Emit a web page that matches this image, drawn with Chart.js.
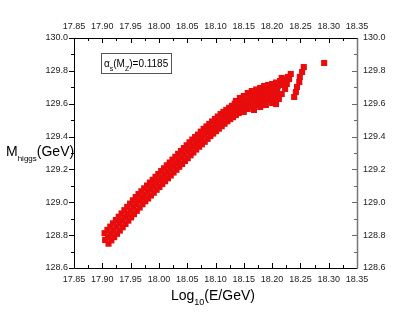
<!DOCTYPE html>
<html>
<head>
<meta charset="utf-8">
<script src="https://cdn.jsdelivr.net/npm/chart.js@4"></script>
<style>
  html, body { margin: 0; padding: 0; background: #fff; }
  canvas { display: block; }
</style>
</head>
<body>
<canvas id="chart" width="415" height="321"></canvas>
<script>
// main diagonal band (log10 E, Higgs mass): centre row, upper-left row, lower-right row
const bandLogE = [
  17.905, 17.910, 17.915, 17.920, 17.925, 17.930, 17.935, 17.940, 17.945, 17.950,
  17.955, 17.960, 17.965, 17.970, 17.975, 17.980, 17.985, 17.990, 17.995, 18.000,
  18.005, 18.010, 18.015, 18.020, 18.025, 18.030, 18.035, 18.040, 18.045, 18.050,
  18.055, 18.060, 18.065, 18.070, 18.075, 18.080, 18.085, 18.090, 18.095, 18.100,
  18.105, 18.110, 18.115, 18.120, 18.125, 18.130, 18.135, 18.140, 18.145,

  17.904, 17.909, 17.914, 17.919, 17.924, 17.929, 17.934, 17.939, 17.944, 17.949,
  17.954, 17.959, 17.964, 17.969, 17.974, 17.979, 17.984, 17.989, 17.994, 17.999,
  18.004, 18.009, 18.014, 18.019, 18.024, 18.029, 18.034, 18.039, 18.044, 18.049,
  18.054, 18.059, 18.064, 18.069, 18.074, 18.079, 18.084, 18.089, 18.094, 18.099,
  18.104, 18.109, 18.114, 18.119, 18.124, 18.129, 18.134, 18.139,

  17.911, 17.916, 17.921, 17.926, 17.931, 17.936, 17.941, 17.946, 17.951, 17.956,
  17.961, 17.966, 17.971, 17.976, 17.981, 17.986, 17.991, 17.996, 18.001, 18.006,
  18.011, 18.016, 18.021, 18.026, 18.031, 18.036, 18.041, 18.046, 18.051, 18.056,
  18.061, 18.066, 18.071, 18.076, 18.081, 18.086, 18.091, 18.096, 18.101, 18.106,
  18.111, 18.116, 18.121, 18.126, 18.131, 18.136, 18.141, 18.146, 18.151
];
const bandMass = [
  128.770, 128.790, 128.810, 128.830, 128.850, 128.870, 128.890, 128.910, 128.930, 128.950,
  128.970, 128.990, 129.010, 129.028, 129.045, 129.063, 129.080, 129.098, 129.115, 129.133,
  129.150, 129.168, 129.185, 129.203, 129.220, 129.238, 129.255, 129.273, 129.290, 129.308,
  129.325, 129.343, 129.360, 129.375, 129.390, 129.408, 129.425, 129.440, 129.455, 129.470,
  129.485, 129.500, 129.515, 129.528, 129.540, 129.553, 129.565, 129.578, 129.590,

  128.812, 128.832, 128.852, 128.872, 128.892, 128.912, 128.932, 128.952, 128.972, 128.992,
  129.012, 129.032, 129.050, 129.067, 129.085, 129.102, 129.120, 129.137, 129.155, 129.172,
  129.190, 129.207, 129.225, 129.242, 129.260, 129.277, 129.295, 129.312, 129.330, 129.347,
  129.365, 129.382, 129.397, 129.412, 129.430, 129.447, 129.462, 129.477, 129.492, 129.507,
  129.522, 129.537, 129.550, 129.562, 129.575, 129.587, 129.600, 129.612,

  128.748, 128.768, 128.788, 128.808, 128.828, 128.848, 128.868, 128.888, 128.908, 128.928,
  128.948, 128.968, 128.988, 129.006, 129.023, 129.041, 129.058, 129.076, 129.093, 129.111,
  129.128, 129.146, 129.163, 129.181, 129.198, 129.216, 129.233, 129.251, 129.268, 129.286,
  129.303, 129.321, 129.338, 129.353, 129.368, 129.386, 129.403, 129.418, 129.433, 129.448,
  129.463, 129.478, 129.493, 129.506, 129.518, 129.531, 129.543, 129.556, 129.568
];

// wider cloud near the top end
const cloudLogE = [
  18.136, 18.143, 18.150, 18.157, 18.164, 18.172, 18.179, 18.186, 18.193, 18.200, 18.207, 18.214, 18.221, 18.228,
  18.140, 18.147, 18.154, 18.161, 18.168, 18.175, 18.182, 18.189, 18.196, 18.203, 18.210, 18.217,
  18.143, 18.150, 18.157, 18.164, 18.172, 18.179, 18.186, 18.193, 18.200, 18.207,
  18.150, 18.157, 18.164, 18.172, 18.179, 18.186, 18.193, 18.200, 18.207,
  18.168, 18.179, 18.189, 18.200
];
const cloudMass = [
  129.617, 129.635, 129.647, 129.665, 129.677, 129.687, 129.696, 129.708, 129.714, 129.720, 129.729, 129.738, 129.747, 129.763,
  129.592, 129.610, 129.623, 129.641, 129.653, 129.665, 129.677, 129.687, 129.696, 129.702, 129.708, 129.714,
  129.568, 129.586, 129.598, 129.617, 129.629, 129.641, 129.650, 129.659, 129.665, 129.671,
  129.550, 129.568, 129.580, 129.592, 129.604, 129.617, 129.623, 129.629, 129.635,
  129.562, 129.580, 129.592, 129.604
];

// steep branches at the end and the lone point
const branchLogE = [
  18.256, 18.253, 18.249, 18.248, 18.244, 18.242, 18.239,
  18.233, 18.230, 18.226, 18.223, 18.217, 18.212, 18.207,
  18.217, 18.214, 18.209, 18.203,
  18.292
];
const branchMass = [
  129.823, 129.793, 129.763, 129.732, 129.702, 129.671, 129.641,
  129.781, 129.750, 129.720, 129.690, 129.659, 129.629, 129.598,
  129.757, 129.726, 129.696, 129.665,
  129.848
];

const xMin = 17.85, xMax = 18.35, xStep = 0.05;
const yMin = 128.6, yMax = 130.0, yStep = 0.2;

const RED = "#e80c0c";
const FONT = "'Liberation Sans', Arial, sans-serif";

function toPoints(xs, ys) {
  return xs.map((x, i) => ({ x: x, y: ys[i] }));
}

function mkSet(xs, ys) {
  return {
    data: toPoints(xs, ys),
    pointStyle: "rect",
    pointRadius: 4.3,
    pointHoverRadius: 4.3,
    backgroundColor: RED,
    borderColor: RED,
    borderWidth: 0,
    showLine: false
  };
}

// text with subscripts: parts = [[text, isSub], ...]
function drawRich(ctx, x, y, parts, size, subSize) {
  let cx = x;
  parts.forEach(p => {
    ctx.font = (p[1] ? subSize : size) + "px " + FONT;
    ctx.fillText(p[0], cx, p[1] ? y + size * 0.35 : y);
    cx += ctx.measureText(p[0]).width;
  });
}

const framePlugin = {
  id: "frame",
  afterDraw(chart) {
    const ctx = chart.ctx, a = chart.chartArea;
    const xs = chart.scales.x, ys = chart.scales.y;
    ctx.save();
    ctx.lineWidth = 1;

    // x ticks: inward on bottom and top
    ctx.strokeStyle = "#000";
    for (let i = 0; i <= 20; i++) {
      const px = Math.round(xs.getPixelForValue(xMin + i * xStep / 2)) + 0.5;
      const len = i % 2 === 0 ? 5 : 3;
      ctx.beginPath();
      ctx.moveTo(px, a.bottom); ctx.lineTo(px, a.bottom - len);
      ctx.moveTo(px, a.top); ctx.lineTo(px, a.top + len);
      ctx.stroke();
    }
    // y ticks: outward on left, inward on right
    for (let i = 0; i <= 14; i++) {
      const py = Math.round(ys.getPixelForValue(yMin + i * yStep / 2)) + 0.5;
      const len = i % 2 === 0 ? 5 : 3;
      ctx.strokeStyle = "#000";
      ctx.beginPath();
      ctx.moveTo(a.left, py); ctx.lineTo(a.left - len, py);
      ctx.stroke();
      ctx.strokeStyle = "#666";
      ctx.beginPath();
      ctx.moveTo(a.right, py); ctx.lineTo(a.right - len, py);
      ctx.stroke();
    }

    // frame
    const L = Math.round(a.left) + 0.5, R = Math.round(a.right) + 0.5;
    const T = Math.round(a.top) + 0.5, B = Math.round(a.bottom) + 0.5;
    ctx.strokeStyle = "#000";
    ctx.beginPath();
    ctx.moveTo(R, T); ctx.lineTo(L, T); ctx.lineTo(L, B); ctx.lineTo(R, B);
    ctx.stroke();
    ctx.strokeStyle = "#777";
    ctx.lineWidth = 1.5;
    ctx.beginPath();
    ctx.moveTo(R, T); ctx.lineTo(R, B);
    ctx.stroke();

    // axis titles
    ctx.fillStyle = "#000";
    ctx.textBaseline = "alphabetic";
    ctx.textAlign = "left";
    drawRich(ctx, 171, 300, [["Log", false], ["10", true], ["(E/GeV)", false]], 14, 9);
    drawRich(ctx, 6, 156, [["M", false], ["higgs", true], ["(GeV)", false]], 14, 8);

    // annotation box
    ctx.strokeStyle = "#555";
    ctx.lineWidth = 1;
    ctx.strokeRect(101.5, 53.5, 70, 20);
    drawRich(ctx, 104, 67, [["\u03b1", false], ["s", true], ["(M", false], ["Z", true], [")=0.1185", false]], 10, 7);

    ctx.restore();
  }
};

function tickCfg(digits) {
  return {
    font: { family: FONT, size: 9 },
    color: "#222",
    padding: 6,
    autoSkip: false,
    maxRotation: 0,
    callback: v => Number(v).toFixed(digits)
  };
}

function xScale(pos, h) {
  return {
    type: "linear", position: pos, min: xMin, max: xMax,
    ticks: Object.assign({ stepSize: xStep }, tickCfg(2)),
    grid: { display: false, drawTicks: false },
    border: { display: false },
    afterFit: s => { s.height = h; }
  };
}

function yScale(pos, w) {
  return {
    type: "linear", position: pos, min: yMin, max: yMax,
    ticks: Object.assign({ stepSize: yStep }, tickCfg(1)),
    grid: { display: false, drawTicks: false },
    border: { display: false },
    afterFit: s => { s.width = w; }
  };
}

new Chart(document.getElementById("chart").getContext("2d"), {
  type: "scatter",
  data: {
    datasets: [
      mkSet(bandLogE, bandMass),
      mkSet(cloudLogE, cloudMass),
      mkSet(branchLogE, branchMass)
    ]
  },
  options: {
    responsive: false,
    animation: false,
    devicePixelRatio: 1,
    layout: { padding: 0 },
    plugins: { legend: { display: false }, tooltip: { enabled: false } },
    scales: {
      x: xScale("bottom", 53),
      x2: xScale("top", 38),
      y: yScale("left", 74),
      y2: yScale("right", 58)
    }
  },
  plugins: [framePlugin]
});
</script>
</body>
</html>
